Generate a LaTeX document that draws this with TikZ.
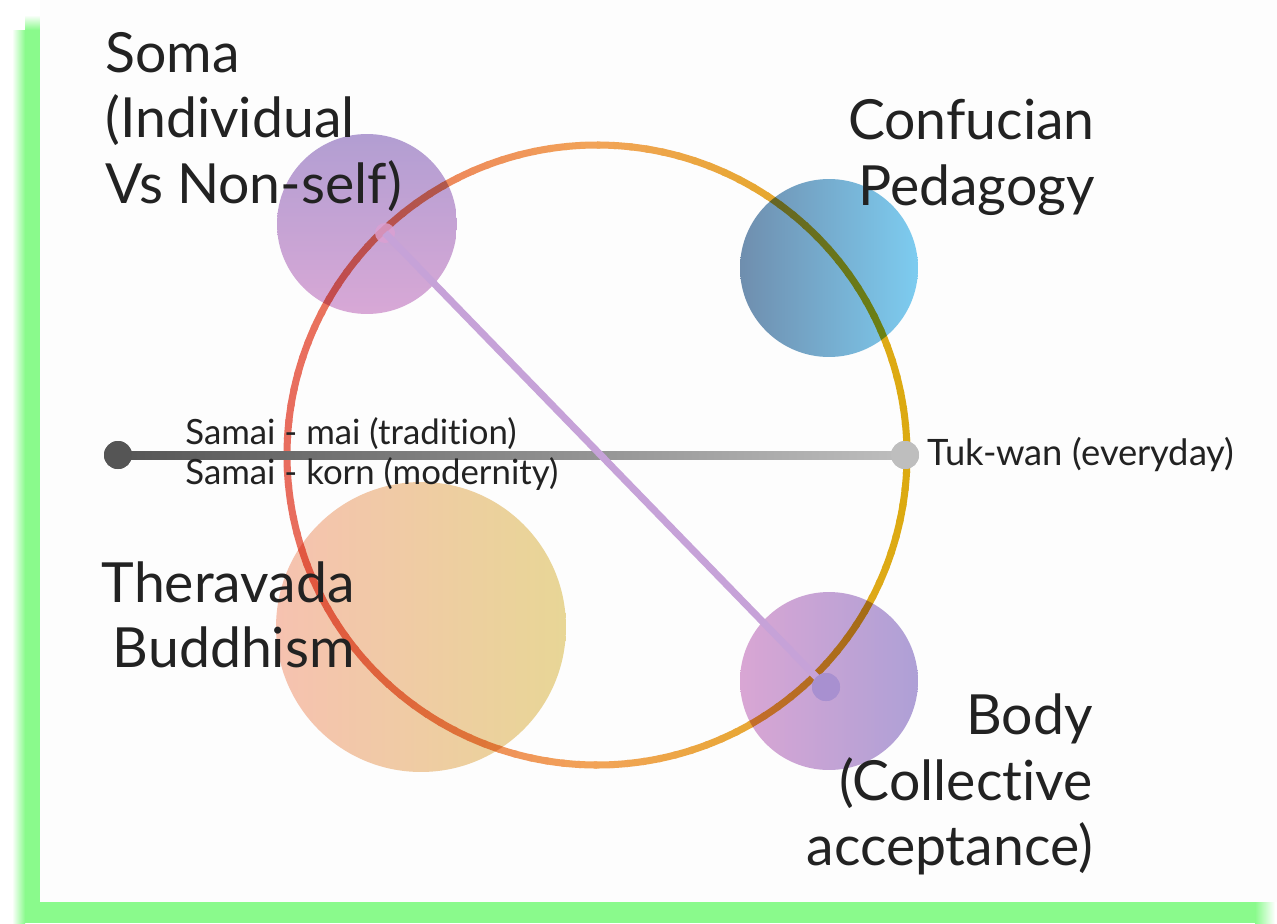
\documentclass[tikz,border=0pt]{standalone}
\usepackage{fontspec}
\setmainfont{Lato}[Ligatures={NoCommon,NoRare,NoContextual}]
\usepackage{xcolor}
\usepackage{tikz}
\usetikzlibrary{positioning,calc}

\definecolor{framegreen}{RGB}{138,250,140}
\definecolor{panel}{RGB}{253,253,253}
\definecolor{inkgray}{RGB}{34,34,34}
\definecolor{ringred}{RGB}{232,108,94}
\definecolor{ringorange}{RGB}{242,164,88}
\definecolor{ringgold}{RGB}{220,170,16}
\definecolor{lineDark}{RGB}{85,85,85}
\definecolor{lineLight}{RGB}{190,190,190}
\definecolor{lilac}{RGB}{198,162,216}

\begin{document}
\begin{tikzpicture}[x=0.02cm,y=-0.02cm,
    bigtext/.style={font=\fontsize{31.5}{37}\selectfont, text=inkgray, inner sep=0pt},
    smalltext/.style={font=\fontsize{19.8}{22}\selectfont, text=inkgray, inner sep=0pt},
    blob/.style={circle, inner sep=0pt, blend mode=multiply},
    knob/.style={circle, inner sep=0pt, minimum size=0.56cm}]
    % frame and panel
    \useasboundingbox (0,0) rectangle (1277,923);
    \fill[white] (0,0) rectangle (1277,923);
    \fill[framegreen] (25,30) rectangle (1255,923);
    \shade[left color=white, right color=framegreen] (12,30) rectangle (25,923);
    \shade[top color=white, bottom color=framegreen] (25,15) rectangle (40,30);
    \shade[left color=framegreen, right color=white] (1255,902) rectangle (1275,923);
    \fill[panel] (40,0) rectangle (1277,902);

    % ring
    \coordinate (ring) at (597,455);
    \foreach \a in {0,3,...,357}{
        \pgfmathtruncatemacro\p{100*abs(cos(\a+1.5))}
        \pgfmathtruncatemacro\s{cos(\a+1.5)<0}
        \ifnum\s=1 \colorlet{seg}{ringred!\p!ringorange}\else\colorlet{seg}{ringgold!\p!ringorange}\fi
        \draw[seg, line width=4pt] ($(ring)+(\a:310)$) arc[start angle=\a, end angle=\a+3.6, radius=310];
    }

    % circles
    \node[blob, minimum size=3.6cm, top color={rgb,255:red,180;green,160;blue,212}, bottom color={rgb,255:red,218;green,170;blue,216}] (soma) at (367,224) {};
    \node[blob, minimum size=3.56cm, left color={rgb,255:red,112;green,144;blue,176}, middle color={rgb,255:red,92;green,150;blue,196}, right color={rgb,255:red,126;green,206;blue,242}] (confucian) at (829,268) {};
    \node[blob, minimum size=5.8cm, left color={rgb,255:red,248;green,196;blue,178}, right color={rgb,255:red,234;green,216;blue,152}] (theravada) at (421,627) {};
    \node[blob, minimum size=3.56cm, left color={rgb,255:red,219;green,168;blue,214}, right color={rgb,255:red,176;green,162;blue,216}] (body) at (829,681) {};

    % time axis
    \node[knob, fill=lineDark] (past) at (118,455) {};
    \node[knob, fill=lineLight] (today) at (905,455) {};
    \shade[left color=lineDark, right color=lineLight] ($(past.center)+(0,-4)$) rectangle ($(today.center)+(0,4)$);
    \node[knob, fill=lineDark] at (past) {};
    \node[knob, fill=lineLight] at (today) {};

    % soma to body
    \node[circle, inner sep=0pt, minimum size=0.4cm, fill={rgb,255:red,220;green,160;blue,210}, fill opacity=0.8] (somadot) at (385,233) {};
    \node[knob, fill={rgb,255:red,168;green,144;blue,208}] (bodydot) at (826,687) {};
    \draw[lilac, line width=4pt] (somadot.center) -- (bodydot.center);
    \node[knob, fill={rgb,255:red,168;green,144;blue,208}] at (bodydot) {};

    % labels
    \node[bigtext, align=left, anchor=base west] (somalabel) at (105,203) {Soma\\(Individual\\Vs Non-self)};
    \node[bigtext, align=right, anchor=base east] (confucianlabel) at (1095,205) {Confucian\\Pedagogy};
    \node[bigtext, align=right, anchor=base east] (theravadalabel) at (355,667) {Theravada\\Buddhism};
    \node[bigtext, align=right, anchor=base east] (bodylabel) at (1093,865) {Body\\(Collective\\acceptance)};
    \node[smalltext, anchor=base west] (mai) at (185,444) {Samai - mai (tradition)};
    \node[smalltext, anchor=base west] (korn) at (185,484) {Samai - korn (modernity)};
    \node[smalltext, font=\fontsize{20.7}{24}\selectfont, anchor=base west] (tukwan) at (927,465) {Tuk-wan (everyday)};
\end{tikzpicture}
\end{document}
